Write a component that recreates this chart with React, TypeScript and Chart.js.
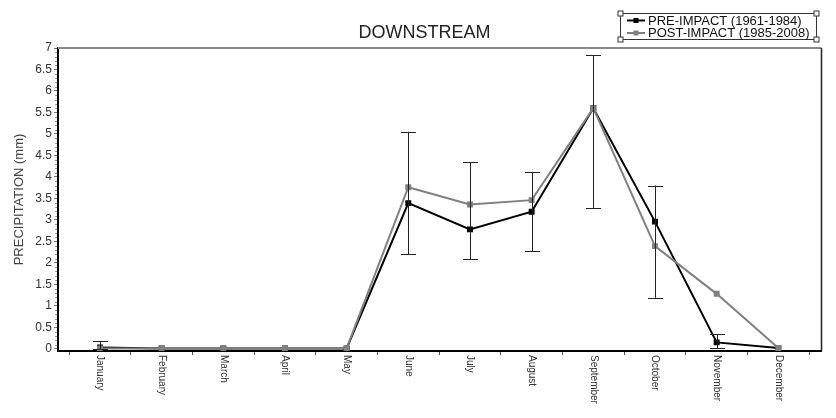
import React, { useEffect, useRef } from 'react';
import { Chart, registerables } from 'chart.js';

Chart.register(...registerables);

const months = ['January', 'February', 'March', 'April', 'May', 'June', 'July', 'August', 'September', 'October', 'November', 'December'];
const preImpact = [0.03, 0.01, 0.01, 0.01, 0.01, 3.39, 2.78, 3.19, 5.6, 2.96, 0.15, 0.02];
const postImpact = [0.01, 0.01, 0.01, 0.01, 0.01, 3.76, 3.36, 3.46, 5.6, 2.39, 1.28, 0.02];
const errLow: (number | null)[] = [0, null, null, null, null, 2.2, 2.09, 2.27, 3.28, 1.19, 0.01, null];
const errHigh: (number | null)[] = [0.18, null, null, null, null, 5.05, 4.34, 4.12, 6.83, 3.8, 0.34, null];
const yTicks = [0, 0.5, 1, 1.5, 2, 2.5, 3, 3.5, 4, 4.5, 5, 5.5, 6, 6.5, 7];
const chartTitle = 'DOWNSTREAM';
const yTitle = 'PRECIPITATION (mm)';
const seriesNames = ['PRE-IMPACT (1961-1984)', 'POST-IMPACT (1985-2008)'];
const seriesColors = ['#000000', '#808080'];

const FONT = "'Liberation Sans', Arial, sans-serif";

const decorPlugin = {
  id: 'decor',
  afterDatasetsDraw(chart: any) {
    const ctx = chart.ctx;
    const xs = chart.scales.x;
    const ys = chart.scales.y;
    ctx.save();
    ctx.strokeStyle = '#222222';
    ctx.lineWidth = 1;
    for (let i = 0; i < months.length; i++) {
      const lo = errLow[i];
      const hi = errHigh[i];
      if (lo === null || hi === null) continue;
      const x = Math.round(xs.getPixelForValue(i)) + 0.5;
      const y1 = ys.getPixelForValue(lo);
      const y2 = ys.getPixelForValue(hi);
      ctx.beginPath();
      ctx.moveTo(x, y1);
      ctx.lineTo(x, y2);
      ctx.moveTo(x - 7.5, Math.round(y1) + 0.5);
      ctx.lineTo(x + 7.5, Math.round(y1) + 0.5);
      ctx.moveTo(x - 7.5, Math.round(y2) + 0.5);
      ctx.lineTo(x + 7.5, Math.round(y2) + 0.5);
      ctx.stroke();
    }
    ctx.restore();
  },
  afterDraw(chart: any) {
    const ctx = chart.ctx;
    const xs = chart.scales.x;
    const ys = chart.scales.y;
    const area = chart.chartArea;
    ctx.save();
    ctx.strokeStyle = '#8a8a8a';
    ctx.lineWidth = 2;
    ctx.beginPath();
    ctx.moveTo(area.left, area.top);
    ctx.lineTo(area.right, area.top);
    ctx.stroke();
    ctx.strokeStyle = '#222222';
    ctx.lineWidth = 1.5;
    ctx.beginPath();
    ctx.moveTo(area.right, area.top);
    ctx.lineTo(area.right, area.bottom);
    ctx.stroke();
    ctx.strokeStyle = '#9a9a9a';
    ctx.lineWidth = 1;
    for (let k = 0; k <= 70; k++) {
      if (k % 5 === 0) continue;
      const y = Math.round(ys.getPixelForValue(k / 10)) + 0.5;
      ctx.beginPath();
      ctx.moveTo(area.left - 3, y);
      ctx.lineTo(area.left - 1, y);
      ctx.stroke();
    }
    ctx.fillStyle = '#333333';
    ctx.font = `10px ${FONT}`;
    ctx.textAlign = 'left';
    ctx.textBaseline = 'middle';
    for (let i = 0; i < months.length; i++) {
      const x = xs.getPixelForValue(i);
      ctx.save();
      ctx.translate(x, area.bottom + 4);
      ctx.rotate(Math.PI / 2);
      ctx.fillText(months[i], 0, 0);
      ctx.restore();
    }
    ctx.save();
    ctx.fillStyle = '#444444';
    ctx.font = `13px ${FONT}`;
    ctx.textAlign = 'center';
    ctx.textBaseline = 'middle';
    ctx.translate(19, (area.top + area.bottom) / 2);
    ctx.rotate(-Math.PI / 2);
    ctx.fillText(yTitle, 0, 0);
    ctx.restore();
    ctx.fillStyle = '#222222';
    ctx.font = `18px ${FONT}`;
    ctx.textAlign = 'center';
    ctx.textBaseline = 'middle';
    ctx.fillText(chartTitle, 424.5, 33);
    const bx = 620.5, by = 13.5, bw = 196, bh = 26;
    ctx.strokeStyle = '#333333';
    ctx.lineWidth = 1;
    ctx.strokeRect(bx, by, bw, bh);
    const corners = [[bx, by], [bx + bw, by], [bx, by + bh], [bx + bw, by + bh]];
    for (const [cx, cy] of corners) {
      ctx.fillStyle = '#ffffff';
      ctx.fillRect(cx - 2.5, cy - 2.5, 5, 5);
      ctx.strokeRect(cx - 2.5, cy - 2.5, 5, 5);
    }
    ctx.font = `13px ${FONT}`;
    ctx.textAlign = 'left';
    for (let s = 0; s < 2; s++) {
      const ly = s === 0 ? 20.5 : 33;
      ctx.strokeStyle = seriesColors[s];
      ctx.lineWidth = 2;
      ctx.beginPath();
      ctx.moveTo(627, ly);
      ctx.lineTo(645, ly);
      ctx.stroke();
      ctx.fillStyle = seriesColors[s];
      ctx.fillRect(633.5, ly - 2.5, 5, 5);
      ctx.fillStyle = '#111111';
      ctx.fillText(seriesNames[s], 648, ly + 0.5);
    }
    ctx.restore();
  },
};

export default function App() {
  const ref = useRef<HTMLCanvasElement | null>(null);
  useEffect(() => {
    document.body.style.margin = '0';
    const canvas = ref.current;
    if (!canvas) return;
    const chart = new Chart(canvas, {
      type: 'line',
      data: {
        datasets: [
          {
            label: seriesNames[0],
            data: preImpact.map((v, i) => ({ x: i, y: v })),
            borderColor: seriesColors[0],
            backgroundColor: seriesColors[0],
            borderWidth: 2,
            pointStyle: 'rect',
            pointRadius: 4.2,
            pointBorderWidth: 0,
            tension: 0,
            order: 1,
          },
          {
            label: seriesNames[1],
            data: postImpact.map((v, i) => ({ x: i, y: v })),
            borderColor: seriesColors[1],
            backgroundColor: seriesColors[1],
            borderWidth: 2,
            pointStyle: 'rect',
            pointRadius: 4.2,
            pointBorderWidth: 0,
            tension: 0,
            order: 0,
          },
        ],
      },
      options: {
        responsive: false,
        animation: false,
        devicePixelRatio: 1,
        layout: { padding: { top: 48, right: 14.5, left: 0, bottom: 0 } },
        plugins: { legend: { display: false }, title: { display: false }, tooltip: { enabled: false } },
        scales: {
          x: {
            type: 'linear',
            min: -0.68,
            max: 11.7,
            afterBuildTicks: (scale: any) => {
              const t = months.map((_, i) => ({ value: i - 0.5 }));
              t.push({ value: months.length - 0.5 });
              scale.ticks = t;
            },
            afterFit: (scale: any) => {
              scale.height = 67;
            },
            ticks: { display: false },
            grid: { drawOnChartArea: false, drawTicks: true, tickLength: 4, tickColor: '#555555' },
            border: { display: true, color: '#000000', width: 2 },
          },
          y: {
            type: 'linear',
            min: -0.05,
            max: 7,
            afterBuildTicks: (scale: any) => {
              scale.ticks = yTicks.map((v) => ({ value: v }));
            },
            afterFit: (scale: any) => {
              scale.width = 58;
            },
            ticks: {
              color: '#333333',
              font: { family: FONT, size: 12 },
              padding: 2,
              callback: (v: any) => String(v),
            },
            grid: { drawOnChartArea: false, drawTicks: true, tickLength: 4, tickColor: '#777777' },
            border: { display: true, color: '#000000', width: 2 },
          },
        },
      },
      plugins: [decorPlugin],
    });
    return () => chart.destroy();
  }, []);
  return (
    <div style={{ width: 836, height: 418 }}>
      <canvas ref={ref} width={836} height={418} style={{ display: 'block' }} />
    </div>
  );
}
